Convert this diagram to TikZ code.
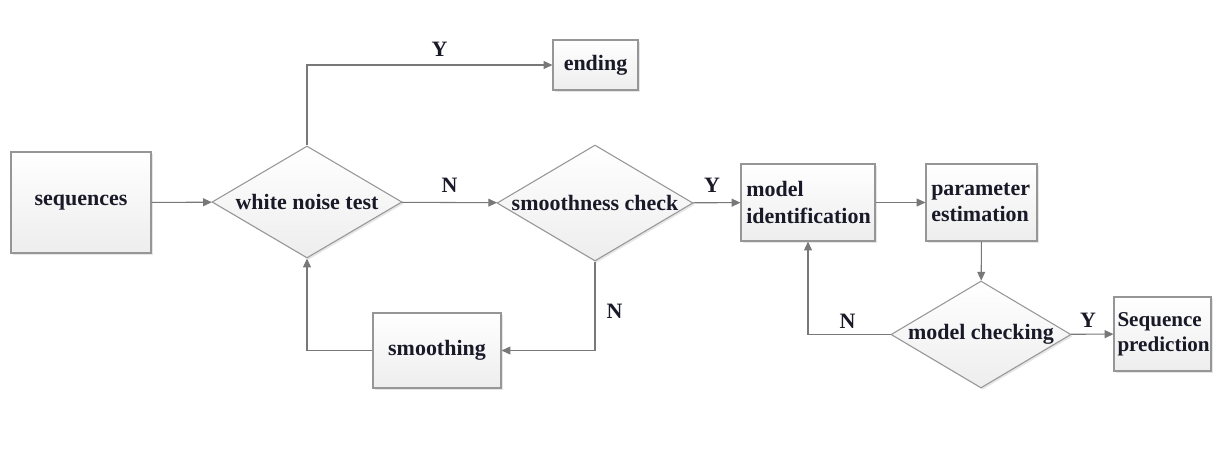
\documentclass[tikz,border=0pt]{standalone}
\usepackage{fontspec}
\setmainfont{Liberation Serif}
\usetikzlibrary{arrows.meta,shapes.geometric,shadows}
\definecolor{linegray}{RGB}{120,120,120}
\definecolor{edgegray}{RGB}{150,150,150}
\definecolor{textdark}{RGB}{25,25,40}

\begin{document}
\begin{tikzpicture}[x=0.02cm,y=-0.02cm,
  every node/.style={font=\fontsize{12.5}{15}\selectfont\bfseries,text=textdark},
  stepbox/.style={draw=edgegray,line width=0.6pt,top color=white,bottom color=gray!14,
    drop shadow={opacity=0.2,shadow xshift=1pt,shadow yshift=-1pt},inner sep=0pt},
  decision/.style={diamond,draw=edgegray,line width=0.6pt,top color=white,bottom color=gray!14,
    drop shadow={opacity=0.2,shadow xshift=1pt,shadow yshift=-1pt},inner sep=0pt,aspect=1.7},
  leftbox/.style={stepbox,align=left,text width=#1,inner xsep=3pt},
  flow/.style={draw=linegray,line width=0.6pt,-{Triangle[length=5pt,width=4.5pt]}}]
  \useasboundingbox (0,0) rectangle (1213,461);

  \node[stepbox,minimum width=2.8cm,minimum height=2.02cm] (seq) at (81,202.5) {sequences};
  \node[decision,minimum width=3.8cm,minimum height=2.24cm] (white) at (307,202) {white noise test};
  \node[stepbox,minimum width=1.7cm,minimum height=1cm] (ending) at (595.5,65) {ending};
  \node[decision,minimum width=3.92cm,minimum height=2.32cm] (smooth) at (595,203) {smoothness check};
  \node[stepbox,minimum width=2.56cm,minimum height=1.5cm] (smoothing) at (437,350.5) {smoothing};
  \node[leftbox=2.47cm,minimum height=1.54cm] (ident) at (808,202.5) {model\\identification};
  \node[leftbox=2.01cm,minimum height=1.54cm] (param) at (981.5,202.5) {parameter\\estimation};
  \node[decision,minimum width=3.6cm,minimum height=2.14cm] (check) at (981,334.5) {model checking};
  \node[leftbox=1.8cm,inner xsep=2pt,minimum height=1.48cm,font=\fontsize{12}{14.5}\selectfont\bfseries]
    (predict) at (1162.5,334) {Sequence\\prediction};

  \draw[flow] (seq) -- (white);
  \draw[flow] (white.north) |- (ending.west) node[pos=0.77,above=1pt] {Y};
  \draw[flow] (white) -- (smooth) node[midway,above=2pt] {N};
  \draw[flow] (smooth) -- (ident) node[pos=0.4,above=2pt] {Y};
  \draw[flow] (smooth.south) |- (smoothing.east) node[pos=0.28,right=3pt] {N};
  \draw[flow] (smoothing.west) -| (white.south);
  \draw[flow] (ident) -- (param);
  \draw[flow] (param) -- (check);
  \draw[flow] (check) -- (predict) node[pos=0.4,above=0pt] {Y};
  \draw[flow] (check.west) -| (ident.south) node[pos=0.26,above=0pt] {N};
\end{tikzpicture}
\end{document}
